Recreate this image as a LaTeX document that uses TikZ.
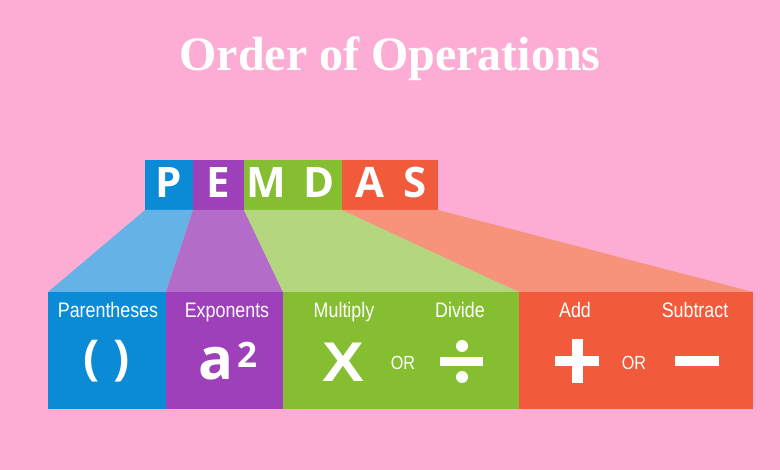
\documentclass[tikz,border=0pt]{standalone}
\usepackage{fontspec}
\setmainfont{Liberation Sans}
\newfontfamily\titlefont{Liberation Serif}
\newfontfamily\letterfont{Open Sans}
\newfontfamily\labelfont[FakeStretch=0.85]{Liberation Sans}
\definecolor{bgpink}{HTML}{FDADD3}
\definecolor{cblue}{HTML}{0B8BD5}
\definecolor{lblue}{HTML}{65B3E6}
\definecolor{cpurple}{HTML}{9E40BA}
\definecolor{lpurple}{HTML}{B46CCB}
\definecolor{cgreen}{HTML}{85BF31}
\definecolor{lgreen}{HTML}{B3D67E}
\definecolor{cred}{HTML}{F15B3B}
\definecolor{lred}{HTML}{F6937A}
\tikzset{
  box/.style={inner sep=0pt, outer sep=0pt, anchor=north west, minimum height=#1},
  topbox/.style={box=50pt},
  botbox/.style={box=117pt},
  letter/.style={text=white, inner sep=0pt, anchor=base, font=\letterfont\bfseries\fontsize{42}{42}\selectfont},
  lbl/.style={text=white, inner sep=0pt, anchor=base, font=\labelfont\fontsize{21}{21}\selectfont},
  orlbl/.style={text=white, inner sep=0pt, anchor=base, font=\labelfont\fontsize{19}{19}\selectfont},
  sym/.style={fill=white},
}
\begin{document}
\begin{tikzpicture}[x=1pt,y=-1pt]
\fill[bgpink] (0,0) rectangle (780,470);
\useasboundingbox (0,0) rectangle (780,470);
% title
\node[text=white, inner sep=0pt, anchor=base, font=\titlefont\bfseries\fontsize{48}{48}\selectfont] (title) at (390,71) {Order of Operations};
% top boxes
\node[topbox, fill=cblue, minimum width=48pt] (tp) at (145,160) {};
\node[topbox, fill=cpurple, minimum width=51pt] (te) at (193,160) {};
\node[topbox, fill=cgreen, minimum width=98pt] (tmd) at (244,160) {};
\node[topbox, fill=cred, minimum width=96pt] (tas) at (342,160) {};
% bottom boxes
\node[botbox, fill=cblue, minimum width=118pt] (bp) at (48,292) {};
\node[botbox, fill=cpurple, minimum width=117pt] (be) at (166,292) {};
\node[botbox, fill=cgreen, minimum width=236pt] (bmd) at (283,292) {};
\node[botbox, fill=cred, minimum width=234pt] (bas) at (519,292) {};
% trapezoids
\fill[lblue] (tp.south west) -- (tp.south east) -- (bp.north east) -- (bp.north west) -- cycle;
\fill[lpurple] (te.south west) -- (te.south east) -- (be.north east) -- (be.north west) -- cycle;
\fill[lgreen] (tmd.south west) -- (tmd.south east) -- (bmd.north east) -- (bmd.north west) -- cycle;
\fill[lred] (tas.south west) -- (tas.south east) -- (bas.north east) -- (bas.north west) -- cycle;
% letters
\node[letter] (lP) at (169,198) {P};
\node[letter] (lE) at (218,198) {E};
\node[letter] (lM) at (266,198) {M};
\node[letter] (lD) at (319,198) {D};
\node[letter] (lA) at (370,198) {A};
\node[letter] (lS) at (415,198) {S};
% labels
\node[lbl] (t1) at (108,318) {Parentheses};
\node[lbl] (t2) at (227,318) {Exponents};
\node[lbl] (t3) at (344,318) {Multiply};
\node[lbl] (t4) at (460,318) {Divide};
\node[lbl] (t5) at (575,318) {Add};
\node[lbl] (t6) at (695,318) {Subtract};
% symbols
\node[text=white, inner sep=0pt, font=\letterfont\bfseries\fontsize{48}{48}\selectfont] (lpar) at (92,361) {(};
\node[text=white, inner sep=0pt, font=\letterfont\bfseries\fontsize{48}{48}\selectfont] (rpar) at (122,361) {)};
\node[text=white, inner sep=0pt, anchor=base, font=\letterfont\bfseries\fontsize{58}{58}\selectfont] (aa) at (216,380) {a};
\node[text=white, inner sep=0pt, anchor=base, font=\letterfont\bfseries\fontsize{35}{35}\selectfont] (two) at (247,368) {2};
\node[text=white, inner sep=0pt, anchor=base, font=\bfseries\fontsize{56}{56}\selectfont] (xx) at (343,382) {\scalebox{1.12}[1]{X}};
\node[orlbl] (or1) at (403,370) {OR};
\node[orlbl] (or2) at (634,370) {OR};
% divide
\fill[sym] (440,357) rectangle (483,366);
\fill[sym] (462,346) circle (6);
\fill[sym] (462,377) circle (6);
% plus
\fill[sym] (555,356) rectangle (599,366);
\fill[sym] (572,339) rectangle (583,383);
% minus
\fill[sym] (675,356) rectangle (719,366);
\end{tikzpicture}
\end{document}
